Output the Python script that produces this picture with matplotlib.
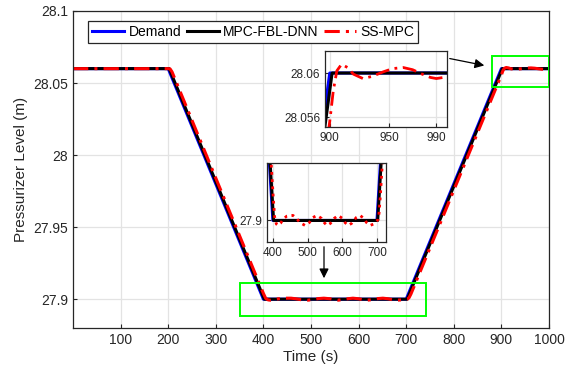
import matplotlib.pyplot as plt
from matplotlib.patches import Rectangle, FancyArrowPatch

plt.rcParams['font.family'] = ['Liberation Sans', 'DejaVu Sans']

# demand
t_dem = [0, 200, 400, 700, 900, 1000]
y_dem = [28.06, 28.06, 27.90, 27.90, 28.06, 28.06]

# MPC-FBL-DNN (tracks demand with ~2 s lag)
t_fbl = [0, 202, 402, 702, 902, 1000]
y_fbl = [28.06, 28.06, 27.90, 27.90, 28.06, 28.06]

# SS-MPC (lags more, oscillates around the setpoint)
t_ss = [0, 200, 204, 208, 300, 400, 405, 410, 415, 422, 430, 440, 450, 458,
        468, 478, 493, 505, 515, 527, 540, 548, 556, 566, 577, 588, 600, 608,
        617, 627, 640, 651, 662, 670, 680, 690, 698, 703, 706, 710, 800, 895,
        900, 903, 906, 910, 915, 920, 928, 936, 945, 953, 962, 970, 978, 985,
        990, 996, 1000]
y_ss = [28.06, 28.06, 28.0598, 28.0578, 27.984, 27.904, 27.9005, 27.8995,
        27.8993, 27.8996, 27.9002, 27.9006, 27.9007, 27.9007, 27.9003, 27.8997,
        27.8993, 27.8997, 27.9004, 27.9007, 27.9003, 27.8997, 27.8993, 27.8996,
        27.9003, 27.9007, 27.9003, 27.8997, 27.8993, 27.8996, 27.9004, 27.9007,
        27.9003, 27.8997, 27.8993, 27.8995, 27.8999, 27.9001, 27.9010, 27.9036,
        27.9756, 28.0516, 28.0556, 28.0584, 28.0602, 28.0608, 28.0605, 28.0599,
        28.0595, 28.0597, 28.0601, 28.0604, 28.0605, 28.0603, 28.0599, 28.0596,
        28.0595, 28.0596, 28.0597]

gray = '#262626'
blue = '#0000ff'
red = '#ff0000'
green = '#00ff00'


def style(ax, fs):
    ax.grid(True, color='#e3e3e3', linewidth=0.9)
    ax.set_axisbelow(True)
    ax.tick_params(direction='in', colors=gray, labelsize=fs, length=3, width=0.8)
    for s in ax.spines.values():
        s.set_color(gray)
        s.set_linewidth(0.9)


fig = plt.figure(figsize=(5.67, 3.8), dpi=100)
ax = fig.add_axes([73 / 567, 52 / 380, 476 / 567, 317 / 380])
style(ax, 10)
l1, = ax.plot(t_dem, y_dem, color=blue, lw=2.2)
l2, = ax.plot(t_fbl, y_fbl, color='k', lw=2.2)
l3, = ax.plot(t_ss, y_ss, color=red, lw=2.2, linestyle=(0, (5, 2, 1, 2)))
ax.set_xlim(0, 1000)
ax.set_ylim(27.88, 28.1)
ax.set_xticks([100, 200, 300, 400, 500, 600, 700, 800, 900, 1000])
ax.set_yticks([27.9, 27.95, 28.0, 28.05, 28.1])
ax.set_yticklabels(['27.9', '27.95', '28', '28.05', '28.1'])
ax.set_xlabel('Time (s)', fontsize=11, color=gray, labelpad=2)
ax.set_ylabel('Pressurizer Level (m)', fontsize=11, color=gray, labelpad=4)

leg = ax.legend([l1, l2, l3], ['Demand', 'MPC-FBL-DNN', 'SS-MPC'], ncol=3,
                loc='upper left', bbox_to_anchor=(0.032, 0.968), fontsize=10,
                handlelength=2.3, handletextpad=0.3, columnspacing=0.4,
                borderpad=0.3, fancybox=False, framealpha=1, borderaxespad=0)
leg.get_frame().set_edgecolor(gray)
leg.get_frame().set_linewidth(0.9)

ax.add_patch(Rectangle((351, 27.888), 391, 0.023, fill=False, edgecolor=green, lw=1.4, zorder=5))
ax.add_patch(Rectangle((880, 28.047), 119, 0.022, fill=False, edgecolor=green, lw=1.4, zorder=5))

# inset around the low plateau
ax1 = fig.add_axes([267 / 567, 138 / 380, 119 / 567, 79 / 380])
style(ax1, 8.5)
ax1.plot(t_dem, y_dem, color=blue, lw=2.2)
ax1.plot(t_fbl, y_fbl, color='k', lw=2.2)
ax1.plot(t_ss, y_ss, color=red, lw=2.0, linestyle=(0, (1, 1.6)))
ax1.set_xlim(383, 726)
ax1.set_ylim(27.897, 27.908)
ax1.set_xticks([400, 500, 600, 700])
ax1.set_yticks([27.9])
ax1.set_yticklabels(['27.9'])

# inset around the high plateau
ax2 = fig.add_axes([325 / 567, 253 / 380, 122 / 567, 76 / 380])
style(ax2, 8.5)
ax2.plot(t_dem, y_dem, color=blue, lw=2.2)
ax2.plot(t_fbl, y_fbl, color='k', lw=2.2)
ax2.plot(t_ss, y_ss, color=red, lw=2.0, linestyle=(0, (5, 2, 1, 2)))
ax2.set_xlim(896, 999)
ax2.set_ylim(28.0551, 28.062)
ax2.set_xticks([900, 950, 990])
ax2.set_yticks([28.056, 28.06])
ax2.set_yticklabels(['28.056', '28.06'])

arrow = dict(arrowstyle='-|>', color='k', lw=0.9, mutation_scale=14)
fig.add_artist(FancyArrowPatch(
    (324 / 567, 1 - 244 / 380), (324 / 567, 1 - 281 / 380),
    transform=fig.transFigure, **arrow))
fig.add_artist(FancyArrowPatch(
    (447 / 567, 1 - 58 / 380), (487 / 567, 1 - 66 / 380),
    transform=fig.transFigure, **arrow))

plt.savefig('out.png', dpi=100)
